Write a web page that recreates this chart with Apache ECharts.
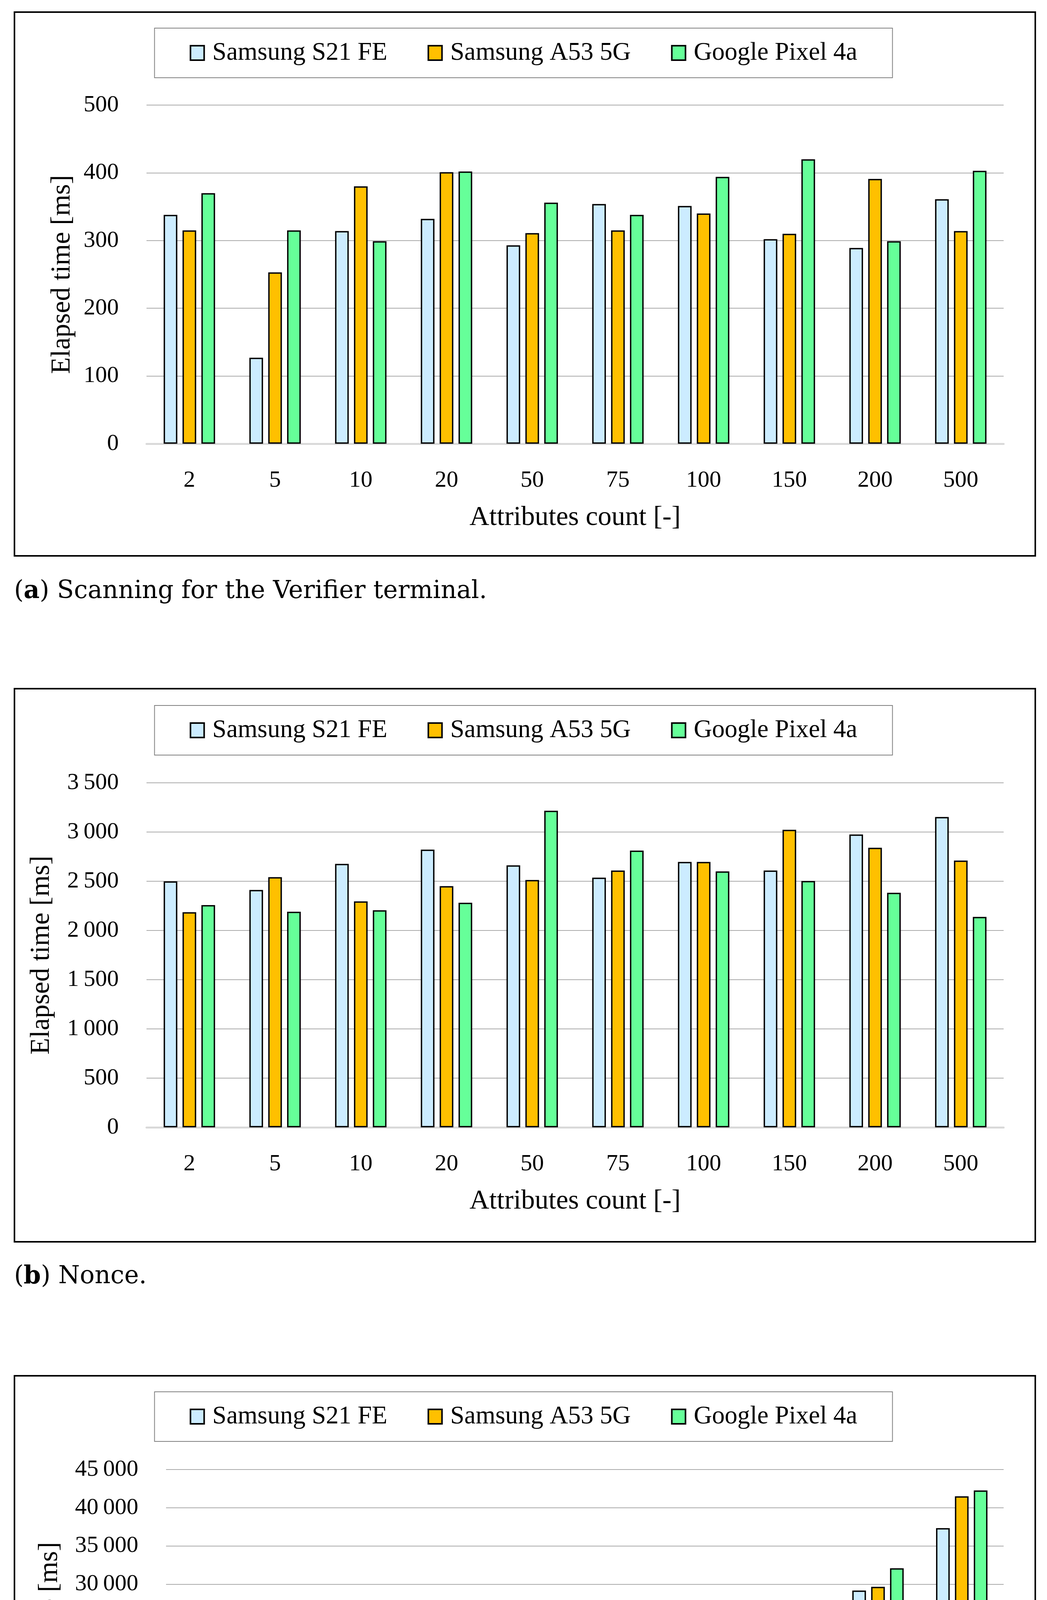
<!DOCTYPE html>
<html><head><meta charset="utf-8">
<script src="https://cdn.jsdelivr.net/npm/echarts@6/dist/echarts.min.js"></script>
<style>html,body{margin:0;padding:0;background:#fff}#c{width:2680px;height:5084px}</style>
</head><body><div id="c"></div>
<script>
// ---- data ----
const categories = ['2', '5', '10', '20', '50', '75', '100', '150', '200', '500'];
const seriesNames = ['Samsung S21 FE', 'Samsung A53 5G', 'Google Pixel 4a'];
const seriesColors = ['#CCECFF', '#FFC000', '#66FF99'];

// (a) Scanning for the Verifier terminal [ms]
const scanS21   = [338, 127, 314, 332, 293, 354, 351, 302, 289, 361];
const scanA53   = [315, 253, 380, 401, 311, 315, 340, 310, 391, 314];
const scanPixel = [370, 315, 299, 402, 356, 338, 394, 420, 299, 403];

// (b) Nonce [ms]
const nonceS21   = [2499, 2412, 2677, 2821, 2662, 2537, 2696, 2609, 2975, 3153];
const nonceA53   = [2186, 2542, 2296, 2450, 2513, 2609, 2696, 3023, 2840, 2710];
const noncePixel = [2258, 2190, 2205, 2282, 3216, 2812, 2600, 2503, 2383, 2138];

// (c) Verify [ms]
const verifyS21   = [2300, 3510, 4330, 6800, 7950, 11290, 15950, 23300, 29160, 37330];
const verifyA53   = [2250, 3510, 5480, 8610, 10690, 11400, 16170, 21330, 29650, 41500];
const verifyPixel = [2470, 3780, 5150, 6800, 8000, 12280, 15680, 23190, 32070, 42270];

// y axis ticks
const yMax = [500, 3500, 45000];
const yInterval = [100, 500, 5000];

const captions = [
  ['a', ' Scanning for the Verifier terminal.'],
  ['b', ' Nonce.'],
  ['c', ' Verify.']
];
const xName = 'Attributes count [-]';
const yName = 'Elapsed time [ms]';

// ---- layout ----
const layout = [
  { box: [37, 31, 2613, 1392], legendTop: 72,  grid: { left: 375, top: 269,  height: 867 }, yNameGap: 180, capY: 1515 },
  { box: [37, 1763, 2613, 1416], legendTop: 1806, grid: { left: 375, top: 2004, height: 882 }, yNameGap: 233, capY: 3269 },
  { box: [37, 3522, 2613, 1406], legendTop: 3563, grid: { left: 425, top: 3762, height: 880 }, yNameGap: 262, capY: 5016 }
];
const panelData = [
  [scanS21, scanA53, scanPixel],
  [nonceS21, nonceA53, noncePixel],
  [verifyS21, verifyA53, verifyPixel]
];

const FONT = '"Liberation Serif", "DejaVu Serif", serif';
const CAPFONT = '"DejaVu Serif", serif';
const fmt = v => String(v).replace(/\B(?=(\d{3})+(?!\d))/g, '\u2009');

const grids = [], xAxes = [], yAxes = [], series = [], legends = [], graphics = [];
layout.forEach((L, i) => {
  grids.push({ left: L.grid.left, right: 111, top: L.grid.top, height: L.grid.height, containLabel: false });
  xAxes.push({
    type: 'category', gridIndex: i, data: categories,
    axisTick: { show: false },
    axisLine: { show: true, lineStyle: { color: '#D9D9D9', width: 5 } },
    axisLabel: { color: '#000', fontFamily: FONT, fontSize: 60, margin: 64 },
    name: xName, nameLocation: 'middle', nameGap: 155, nameMoveOverlap: false,
    nameTextStyle: { color: '#000', fontFamily: FONT, fontSize: 70 }
  });
  yAxes.push({
    type: 'value', gridIndex: i, min: 0, max: yMax[i], interval: yInterval[i],
    axisLine: { show: false }, axisTick: { show: false },
    splitLine: { show: true, lineStyle: { color: '#ABABAB', width: 2 } },
    axisLabel: { color: '#000', fontFamily: FONT, fontSize: 60, margin: 71, formatter: fmt },
    name: yName, nameLocation: 'middle', nameGap: L.yNameGap, nameMoveOverlap: false,
    nameTextStyle: { color: '#000', fontFamily: FONT, fontSize: 70 }
  });
  panelData[i].forEach((d, s) => {
    series.push({
      type: 'bar', name: seriesNames[s], xAxisIndex: i, yAxisIndex: i, data: d,
      barWidth: 35, barGap: '38%',
      itemStyle: { color: seriesColors[s], borderColor: '#000', borderWidth: 3.5 },
      emphasis: { disabled: true }, animation: false
    });
  });
  legends.push({
    top: L.legendTop, left: 'center', data: seriesNames, icon: 'rect',
    itemWidth: 35, itemHeight: 37, itemGap: 103, padding: [31, 90],
    borderColor: '#808080', borderWidth: 2, backgroundColor: '#fff',
    selectedMode: false,
    itemStyle: { borderColor: '#000', borderWidth: 4 },
    textStyle: { color: '#000', fontFamily: FONT, fontSize: 65, padding: [0, 0, 0, 16] }
  });
  graphics.push({
    type: 'rect', shape: { x: L.box[0], y: L.box[1], width: L.box[2], height: L.box[3] },
    style: { fill: 'none', stroke: '#000', lineWidth: 4 }, silent: true, z: 100
  });
  graphics.push({
    type: 'text', x: 36, y: L.capY, silent: true,
    style: {
      text: '({b|' + captions[i][0] + '})' + captions[i][1],
      fill: '#000', fontFamily: CAPFONT, fontSize: 63, verticalAlign: 'middle',
      rich: { b: { fontWeight: 'bold', fontFamily: CAPFONT, fontSize: 63, fill: '#000' } }
    }
  });
});

const chart = echarts.init(document.getElementById('c'), null, { renderer: 'canvas' });
chart.setOption({
  backgroundColor: '#fff',
  animation: false,
  grid: grids, xAxis: xAxes, yAxis: yAxes, series: series, legend: legends,
  graphic: graphics
});
</script>
</body></html>
